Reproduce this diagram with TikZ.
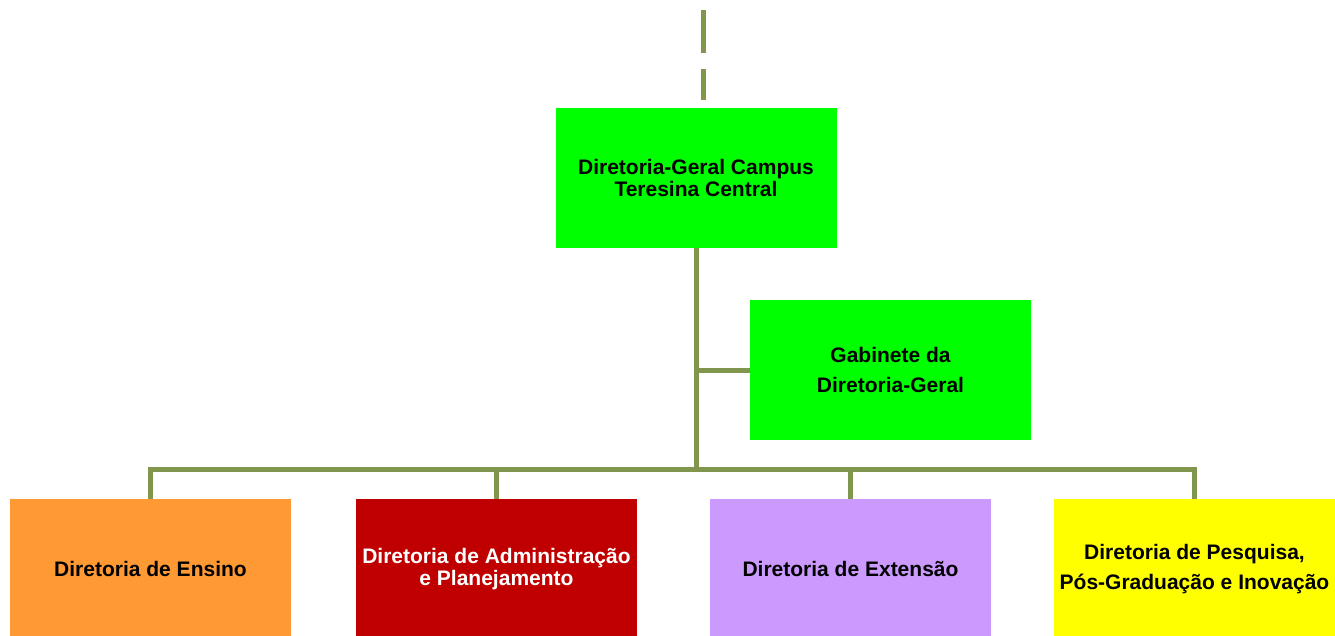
\documentclass[tikz,border=0pt]{standalone}
\usepackage{fontspec}
\setmainfont{Liberation Sans}
\definecolor{olive}{RGB}{128,150,76}
\definecolor{cgreen}{RGB}{0,255,0}
\definecolor{corange}{RGB}{255,153,51}
\definecolor{cred}{RGB}{192,0,0}
\definecolor{clav}{RGB}{204,153,255}
\definecolor{cyellow}{RGB}{255,255,0}
\tikzset{
  box/.style={draw=none, inner sep=0pt, minimum width=281pt, minimum height=140pt, align=center,
    font=\bfseries\fontsize{21}{21.5}\selectfont},
  conn/.style={draw=olive, line width=5pt},
}
\begin{document}
\begin{tikzpicture}[x=1pt,y=-1pt]
\useasboundingbox (0,0) rectangle (1335,636);
\node[box, fill=cgreen] (top) at (696,178) {Diretoria-Geral Campus\\Teresina Central};
\node[box, fill=cgreen] (gab) at (890.5,370) {Gabinete da\\[9pt]Diretoria-Geral};
\node[box, fill=corange] (ens) at (150.5,569) {Diretoria de Ensino};
\node[box, fill=cred, text=white] (adm) at (496.5,569) {Diretoria de Administração\\e Planejamento};
\node[box, fill=clav] (ext) at (850.5,569) {Diretoria de Extensão};
\node[box, fill=cyellow] (pes) at (1194.5,569) {Diretoria de Pesquisa,\\[9pt]Pós-Graduação e Inovação};
\coordinate (bus) at (696,469.5);
\coordinate (dtop) at (703,10);
\coordinate (dbot) at (703,100);
\draw[conn, dash pattern=on 42.7pt off 16.3pt] (dtop) -- (dbot);
\draw[conn] (top.south) -- (top.south |- bus);
\draw[conn] (top.south |- gab.west) -- (gab.west);
\draw[conn] (ens.north) |- (pes.north |- bus) -- (pes.north);
\draw[conn] (adm.north |- bus) -- (adm.north);
\draw[conn] (ext.north |- bus) -- (ext.north);
\end{tikzpicture}
\end{document}
